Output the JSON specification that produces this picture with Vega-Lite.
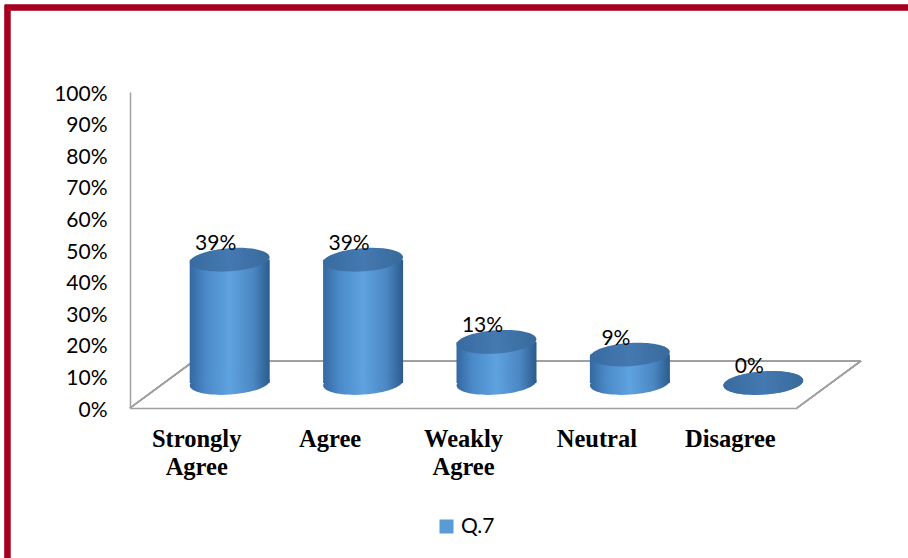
{
  "$schema": "https://vega.github.io/schema/vega-lite/v6.json",
  "width": 667,
  "height": 316,
  "autosize": {"type": "none"},
  "padding": {"left": 130, "top": 92, "right": 111, "bottom": 150},
  "background": "white",
  "config": {
    "view": {"stroke": null},
    "axisY": {
      "grid": false,
      "ticks": false,
      "tickSize": 0,
      "labelOverlap": false,
      "labelFlush": false,
      "domainColor": "#a0a0a0",
      "domainWidth": 1.5,
      "labelFont": "Lato",
      "labelFontSize": 21,
      "labelColor": "black",
      "labelPadding": 23,
      "labelOffset": 2
    }
  },
  "data": {
    "values": [
      {"category": "Strongly Agree", "value": 0.39, "series": "Q.7"},
      {"category": "Agree", "value": 0.39, "series": "Q.7"},
      {"category": "Weakly Agree", "value": 0.13, "series": "Q.7"},
      {"category": "Neutral", "value": 0.09, "series": "Q.7"},
      {"category": "Disagree", "value": 0.0, "series": "Q.7"}
    ]
  },
  "layer": [
    {
      "layer": [
        {
          "mark": {"type": "rect", "fillOpacity": 0, "stroke": "#a50021", "strokeWidth": 5.5, "clip": false},
          "encoding": {
            "x": {"datum": -0.1837, "type": "quantitative", "scale": {"domain": [0, 1]}, "axis": null},
            "x2": {"datum": 1.2},
            "y": {"datum": 1.2674, "type": "quantitative", "scale": {"domain": [0, 1]}, "axis": null},
            "y2": {"datum": -0.6076}
          }
        },
        {
          "mark": {"type": "rule", "stroke": "#a0a0a0", "strokeWidth": 1.5},
          "encoding": {
            "x": {"datum": 0.096, "type": "quantitative", "scale": {"domain": [0, 1]}, "axis": null},
            "x2": {"datum": 1.096},
            "y": {"datum": 0.149, "type": "quantitative", "scale": {"domain": [0, 1]}, "axis": null},
            "y2": {"datum": 0.149}
          }
        },
        {
          "mark": {"type": "rule", "stroke": "#a0a0a0", "strokeWidth": 1.5},
          "encoding": {
            "x": {"datum": 0, "type": "quantitative", "scale": {"domain": [0, 1]}, "axis": null},
            "x2": {"datum": 0.096},
            "y": {"datum": 0, "type": "quantitative", "scale": {"domain": [0, 1]}, "axis": null},
            "y2": {"datum": 0.149}
          }
        },
        {
          "mark": {"type": "rule", "stroke": "#a0a0a0", "strokeWidth": 1.5},
          "encoding": {
            "x": {"datum": 1, "type": "quantitative", "scale": {"domain": [0, 1]}, "axis": null},
            "x2": {"datum": 1.096},
            "y": {"datum": 0, "type": "quantitative", "scale": {"domain": [0, 1]}, "axis": null},
            "y2": {"datum": 0.149}
          }
        }
      ]
    },
    {
      "encoding": {
        "x": {
          "field": "category",
          "type": "nominal",
          "sort": null,
          "scale": {"paddingInner": 0, "paddingOuter": 0},
          "axis": {
            "title": null,
            "labelAngle": 0,
            "ticks": false,
            "tickSize": 0,
            "domainColor": "#a0a0a0",
            "domainWidth": 1.5,
            "labelFont": "Liberation Serif",
            "labelFontWeight": "bold",
            "labelFontSize": 24.5,
            "labelColor": "black",
            "labelPadding": 19,
            "labelLineHeight": 28,
            "labelBaseline": "top",
            "labelOverlap": false,
            "labelExpr": "split(datum.label, ' ')"
          }
        }
      },
      "layer": [
        {
          "mark": {
            "type": "bar",
            "width": 80,
            "xOffset": 33,
            "x2Offset": 33,
            "yOffset": -25,
            "y2Offset": -25,
            "color": {"gradient": "linear", "x1": 0, "y1": 0, "x2": 1, "y2": 0, "stops": [
              {"offset": 0, "color": "#3568a0"},
              {"offset": 0.2, "color": "#4a8ac8"},
              {"offset": 0.5, "color": "#5fa2e0"},
              {"offset": 0.8, "color": "#4a86c2"},
              {"offset": 1, "color": "#2c5b8c"}
            ]}
          },
          "encoding": {
            "y": {
              "field": "value",
              "type": "quantitative",
              "scale": {"domain": [0, 1]},
              "title": null,
              "axis": {"tickCount": 11, "values": [0, 0.1, 0.2, 0.3, 0.4, 0.5, 0.6, 0.7, 0.8, 0.9, 1], "format": ".0%", "labelOverlap": false}
            }
          }
        },
        {
          "mark": {
            "type": "point",
            "shape": "M-1,0A1,0.29,0,1,1,1,0A1,0.29,0,1,1,-1,0Z",
            "size": 6400,
            "filled": true,
            "opacity": 1,
            "strokeWidth": 0,
            "angle": -4,
            "xOffset": 33,
            "yOffset": -25,
            "fill": {"gradient": "linear", "x1": 0, "y1": 0, "x2": 1, "y2": 0, "stops": [
              {"offset": 0, "color": "#3568a0"},
              {"offset": 0.2, "color": "#4a8ac8"},
              {"offset": 0.5, "color": "#5fa2e0"},
              {"offset": 0.8, "color": "#4a86c2"},
              {"offset": 1, "color": "#2c5b8c"}
            ]}
          },
          "encoding": {
            "y": {"datum": 0, "type": "quantitative", "scale": {"domain": [0, 1]}, "title": null,
              "axis": {"tickCount": 11, "values": [0, 0.1, 0.2, 0.3, 0.4, 0.5, 0.6, 0.7, 0.8, 0.9, 1], "format": ".0%", "labelOverlap": false}}
          }
        },
        {
          "mark": {
            "type": "point",
            "shape": "M-1,0A1,0.29,0,1,1,1,0A1,0.29,0,1,1,-1,0Z",
            "size": 6400,
            "filled": true,
            "opacity": 1,
            "strokeWidth": 0,
            "angle": -4,
            "xOffset": 33,
            "yOffset": -25,
            "fill": {"gradient": "linear", "x1": 0, "y1": 0, "x2": 1, "y2": 0, "stops": [
              {"offset": 0, "color": "#386b9f"},
              {"offset": 0.5, "color": "#4479b1"},
              {"offset": 1, "color": "#386a9b"}
            ]}
          },
          "encoding": {
            "y": {"field": "value", "type": "quantitative", "scale": {"domain": [0, 1]}, "title": null,
              "axis": {"tickCount": 11, "values": [0, 0.1, 0.2, 0.3, 0.4, 0.5, 0.6, 0.7, 0.8, 0.9, 1], "format": ".0%", "labelOverlap": false}}
          }
        },
        {
          "mark": {
            "type": "text",
            "font": "Lato",
            "fontSize": 21,
            "color": "black",
            "align": "center",
            "baseline": "middle",
            "xOffset": 19,
            "yOffset": -41
          },
          "encoding": {
            "y": {"field": "value", "type": "quantitative", "scale": {"domain": [0, 1]}, "title": null,
              "axis": {"tickCount": 11, "values": [0, 0.1, 0.2, 0.3, 0.4, 0.5, 0.6, 0.7, 0.8, 0.9, 1], "format": ".0%", "labelOverlap": false}},
            "text": {"field": "value", "type": "quantitative", "format": ".0%"}
          }
        },
        {
          "mark": {"type": "point", "shape": "square", "filled": true, "opacity": 0},
          "encoding": {
            "y": {"field": "value", "type": "quantitative", "scale": {"domain": [0, 1]}, "title": null,
              "axis": {"tickCount": 11, "values": [0, 0.1, 0.2, 0.3, 0.4, 0.5, 0.6, 0.7, 0.8, 0.9, 1], "format": ".0%", "labelOverlap": false}},
            "color": {
              "field": "series",
              "type": "nominal",
              "scale": {"range": ["#5b9bd5"]},
              "legend": {
                "title": null,
                "orient": "none",
                "legendX": 306,
                "legendY": 424,
                "symbolType": "square",
                "symbolSize": 196,
                "symbolStrokeWidth": 0,
                "symbolOpacity": 1,
                "labelFont": "Lato",
                "labelFontSize": 21,
                "labelColor": "black",
                "labelOffset": 4
              }
            }
          }
        }
      ]
    }
  ],
  "resolve": {"scale": {"x": "independent", "y": "independent"}}
}
